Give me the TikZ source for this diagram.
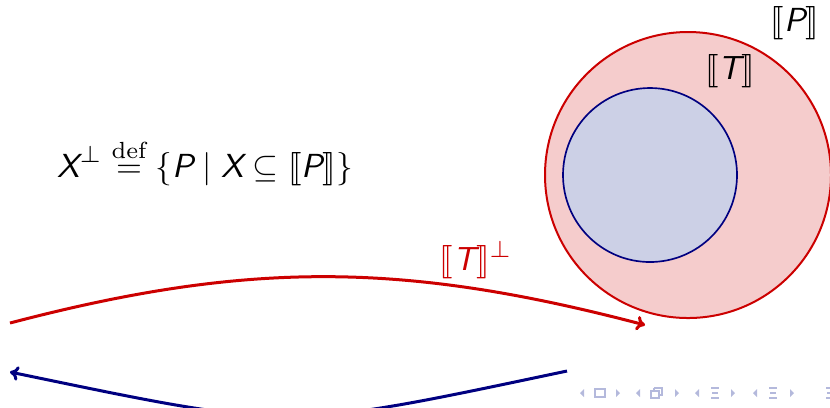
\documentclass[tikz,border=0pt]{standalone}
\usepackage{fontspec}
\IfFileExists{stmaryrd.sty}{\usepackage{stmaryrd}}{%
  \newcommand{\llbracket}{\mathopen{[\mkern-4.8mu[}}%
  \newcommand{\rrbracket}{\mathclose{]\mkern-4.8mu]}}}
\usetikzlibrary{arrows.meta}
\definecolor{bred}{RGB}{204,0,0}
\definecolor{bnavy}{RGB}{0,0,128}
\definecolor{pinkfill}{RGB}{245,204,204}
\definecolor{bluefill}{RGB}{204,208,230}
\definecolor{navgray}{RGB}{180,185,220}
\newcommand{\sv}[1]{\mbox{\sffamily\slshape #1}}
\begin{document}
\begin{tikzpicture}[x=0.3pt,y=-0.3pt,
  lbl/.style={inner sep=0pt, font=\fontsize{10}{12}\selectfont},
  bigset/.style={circle, draw=bred, fill=pinkfill, line width=0.6pt, inner sep=0pt, minimum size=85.8pt},
  smallset/.style={circle, draw=bnavy, fill=bluefill, line width=0.5pt, inner sep=0pt, minimum size=52.2pt},
  redarr/.style={draw=bred, line width=0.9pt, -{To[length=2.6pt,width=4.4pt]}},
  bluearr/.style={draw=bnavy, line width=0.9pt, -{To[length=2.6pt,width=4.4pt]}},
  navtri/.style={fill=navgray},
  navline/.style={draw=navgray, line width=0.35pt}
]
\useasboundingbox (0,0) rectangle (830,407);
\begin{scope}
\clip (0,0) rectangle (830,407);
% sets
\node[bigset] (P) at (688,175) {};
\node[smallset] (T) at (650,175) {};
\node[lbl, anchor=center] (Plab) at (795,23) {$\llbracket\sv{P}\rrbracket$};
\node[lbl, anchor=center] (Tlab) at (730,71) {$\llbracket\sv{T}\rrbracket$};
% definition
\node[lbl, anchor=base west] (def) at (57,177) {$\sv{X}^{\perp} \stackrel{\mathrm{def}}{=} \{\sv{P} \mid \sv{X} \subseteq \llbracket\sv{P}\rrbracket\}$};
% arrows
\coordinate (r1) at (10,323);
\coordinate (r2) at (645,325);
\coordinate (b1) at (567,371);
\coordinate (b2) at (10,372);
\draw[redarr] (r1) .. controls (250,260) and (405,262) .. (r2);
\draw[bluearr] (b1) .. controls (282,431) and (295,431) .. (b2);
\node[lbl, anchor=center, text=bred] (perp) at (476,260) {$\llbracket\sv{T}\rrbracket^{\perp}$};
% navigation symbols
\foreach \x in {582,638,697,755} {
  \fill[navtri] (\x+2,389) -- (\x-2,393) -- (\x+2,397) -- cycle;
}
\foreach \x in {618,677,733,792} {
  \fill[navtri] (\x-2,389) -- (\x+2,393) -- (\x-2,397) -- cycle;
}
\draw[navline] (595,389) rectangle (605,397);
\draw[navline] (651,391) rectangle (659,398);
\draw[navline] (654,388) -- (662,388) -- (662,395) -- (659,395);
\draw[navline] (654,391) -- (654,388);
\foreach \x in {715,773,830} {
  \draw[navline] (\x-4,388) -- (\x+4,388);
  \draw[navline] (\x-3,393) -- (\x+3,393);
  \draw[navline] (\x-4,398) -- (\x+4,398);
}
\end{scope}
\end{tikzpicture}
\end{document}
